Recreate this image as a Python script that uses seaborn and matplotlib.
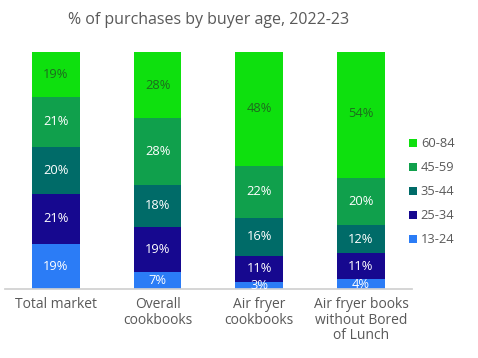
import numpy as np
import matplotlib
matplotlib.use("Agg")
import matplotlib.pyplot as plt
import seaborn as sns

# dados
categorias = ["Total market", "Overall\ncookbooks", "Air fryer\ncookbooks",
              "Air fryer books\nwithout Bored\nof Lunch"]
faixas = ["13-24", "25-34", "35-44", "45-59", "60-84"]
v_13_24 = [19, 7, 3, 4]
v_25_34 = [21, 19, 11, 11]
v_35_44 = [20, 18, 16, 12]
v_45_59 = [21, 28, 22, 20]
v_60_84 = [19, 28, 48, 54]

cores = ["#2b7cf6", "#16088f", "#006b68", "#10a04c", "#0ee00e"]
cor_texto = ["white", "white", "white", "white", "#1e6b1e"]

sns.set_theme(style="white")
plt.rcParams["font.family"] = ["Open Sans", "DejaVu Sans"]

fig = plt.figure(figsize=(4.78, 3.58), dpi=100)
ax = fig.add_axes([0.0105, 0.193, 0.851, 0.662])

series = [v_13_24, v_25_34, v_35_44, v_45_59, v_60_84]
base = np.zeros(len(categorias))
for nome, vals, cor, ct in zip(faixas, series, cores, cor_texto):
    sns.barplot(x=categorias, y=vals, bottom=base, color=cor, width=0.47,
                ax=ax, label=nome, saturation=1, linewidth=0)
    for i, v in enumerate(vals):
        ax.text(i, base[i] + v / 2, f"{v}%", ha="center", va="center",
                color=ct, fontsize=9.3)
    base = base + np.array(vals)

ax.set_xlim(-0.5, 3.5)
ax.set_ylim(0, 100)
ax.set_yticks([])
for lado in ["top", "right", "left"]:
    ax.spines[lado].set_visible(False)
ax.spines["bottom"].set_color("#d0d0d0")
ax.tick_params(axis="x", colors="#595959", labelsize=10, length=0, pad=6)
for t in ax.get_xticklabels():
    t.set_linespacing(1.05)
ax.set_title("% of purchases by buyer age, 2022-23", color="#595959",
             fontsize=11.5, pad=20)

handles, labels = ax.get_legend_handles_labels()
ax.legend(handles[::-1], labels[::-1], loc="center left",
          bbox_to_anchor=(0.965, 0.41), frameon=False, fontsize=9.3,
          labelcolor="#595959", handlelength=0.6, handleheight=0.6,
          handletextpad=0.3, labelspacing=0.85)

fig.savefig("out.png", dpi=100)
